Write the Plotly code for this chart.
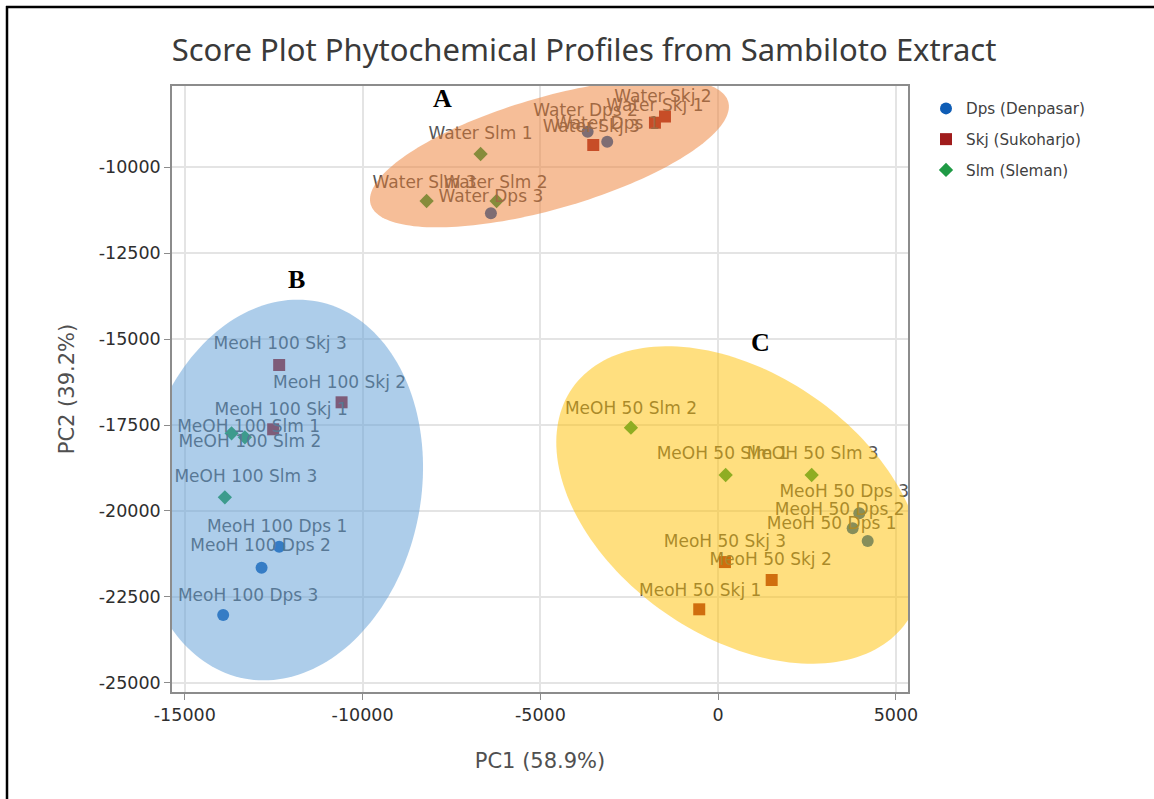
import numpy as np
import plotly.graph_objects as go

# ---------------- data ----------------
dps_names = ["Water Dps 1", "Water Dps 2", "Water Dps 3",
             "MeoH 100 Dps 1", "MeoH 100 Dps 2", "MeoH 100 Dps 3",
             "MeoH 50 Dps 1", "MeoH 50 Dps 2", "MeoH 50 Dps 3"]
dps_pc1 = [-3120, -3671, -6391, -12346, -12841, -13921, 4205, 3783, 3969]
dps_pc2 = [-9265, -8974, -11346, -21038, -21648, -23023, -20872, -20503, -20067]

skj_names = ["Water Skj 1", "Water Skj 2", "Water Skj 3",
             "MeoH 100 Skj 1", "MeoH 100 Skj 2", "MeoH 100 Skj 3",
             "MeoH 50 Skj 1", "MeoH 50 Skj 2", "MeoH 50 Skj 3"]
skj_pc1 = [-1778, -1496, -3513, -12515, -10591, -12346, -532, 1505, 191]
skj_pc2 = [-8712, -8532, -9360, -17625, -16840, -15756, -22858, -22006, -21485]

slm_names = ["Water Slm 1", "Water Slm 2", "Water Slm 3",
             "MeOH 100 Slm 1", "MeOH 100 Slm 2", "MeOH 100 Slm 3",
             "MeOH 50 Slm 1", "MeOH 50 Slm 2", "MeOH 50 Slm 3"]
slm_pc1 = [-6681, -6231, -8200, -13685, -13311, -13873, 211, -2453, 2630]
slm_pc2 = [-9622, -10988, -10988, -17741, -17858, -19602, -18953, -17578, -18953]

group_names = ["Dps (Denpasar)", "Skj (Sukoharjo)", "Slm (Sleman)"]

x_ticks = [-15000, -10000, -5000, 0, 5000]
x_tick_text = ["-15000", "-10000", "-5000", "0", "5000"]
y_ticks = [-25000, -22500, -20000, -17500, -15000, -12500, -10000]
y_tick_text = ["-25000", "-22500", "-20000", "-17500", "-15000", "-12500", "-10000"]

# ---------------- styling / layout ----------------
W, H = 1154, 799
ML, MR, MT, MB = 172, 246, 86, 107
PW, PH = W - ML - MR, H - MT - MB
XR = [-15360, 5339]
YR = [-25262, -7645]
kx = PW / (XR[1] - XR[0])   # px per data unit
ky = PH / (YR[1] - YR[0])

colors = ["#0f5db5", "#a01c1c", "#1f9a45"]
symbols = ["circle", "square", "diamond"]
msizes = [12, 12, 11]

# label pixel offsets (dx, dy) relative to each marker (screen px, y down)
dps_lab = [(0, -17), (-2, -20), (0, -16), (-2, -19), (-1, -21), (25, -18),
           (-36, -16), (-13, -18), (-15, -21)]
skj_lab = [(0, -16), (-2, -19), (-2, -17), (8, -19), (-2, -19), (1, -20),
           (1, -18), (-1, -19), (0, -19)]
slm_lab = [(0, -19), (-1, -17), (-2, -17), (17, -6), (5, 5), (21, -20),
           (-3, -20), (0, -18), (1, -20)]

# confidence ellipses: centre (data), semi-axes (px), angle (deg, screen, y up)
ellipses = [
    dict(cx=-4745, cy=-9593, a=186, b=56, ang=16, color="rgba(237,125,49,0.5)"),
    dict(cx=-12300, cy=-19390, a=192, b=140, ang=79, color="rgba(91,155,213,0.5)"),
    dict(cx=600, cy=-19826, a=204, b=131, ang=-35, color="rgba(255,192,0,0.5)"),
]

fig = go.Figure()

series = [(dps_names, dps_pc1, dps_pc2, dps_lab),
          (skj_names, skj_pc1, skj_pc2, skj_lab),
          (slm_names, slm_pc1, slm_pc2, slm_lab)]

for i, (names, xs, ys, labs) in enumerate(series):
    fig.add_trace(go.Scatter(
        x=xs, y=ys, mode="markers", name=group_names[i],
        legendgroup=group_names[i],
        marker=dict(symbol=symbols[i], size=msizes[i], color=colors[i],
                    line=dict(width=0)),
        text=names, hoverinfo="text", cliponaxis=False))

for i, (names, xs, ys, labs) in enumerate(series):
    lx = [x + d[0] / kx for x, d in zip(xs, labs)]
    ly = [y - d[1] / ky for y, d in zip(ys, labs)]
    fig.add_trace(go.Scatter(
        x=lx, y=ly, mode="text", text=names, textposition="middle center",
        textfont=dict(family="DejaVu Sans", size=17, color="#555555"),
        showlegend=False, hoverinfo="skip", cliponaxis=False))

shapes = []
# dashed zero line
shapes.append(dict(type="line", xref="x", yref="paper", x0=0, x1=0, y0=0, y1=1,
                   line=dict(color="#8f8f8f", width=1.5, dash="dash"),
                   layer="between"))
t = np.linspace(0, 2 * np.pi, 181)
for e in ellipses:
    th = np.deg2rad(e["ang"])
    dx = e["a"] * np.cos(t) * np.cos(th) - e["b"] * np.sin(t) * np.sin(th)
    dy = e["a"] * np.cos(t) * np.sin(th) + e["b"] * np.sin(t) * np.cos(th)
    px = e["cx"] + dx / kx
    py = e["cy"] + dy / ky
    path = "M " + " L ".join(f"{a:.2f},{b:.2f}" for a, b in zip(px, py)) + " Z"
    shapes.append(dict(type="path", xref="x", yref="y", path=path,
                       fillcolor=e["color"], line=dict(width=0), layer="above"))

# outer black frame (left & top edges of the picture)
def pxx(p):
    return (p - ML) / PW

def pyy(p):
    return (H - MB - p) / PH

shapes.append(dict(type="line", xref="paper", yref="paper",
                   x0=pxx(7), x1=pxx(7), y0=pyy(6), y1=pyy(H + 5),
                   line=dict(color="black", width=2.5)))
shapes.append(dict(type="line", xref="paper", yref="paper",
                   x0=pxx(6), x1=pxx(W + 5), y0=pyy(7), y1=pyy(7),
                   line=dict(color="black", width=2.5)))

annotations = []
for txt, (ax_, ay_) in zip(["A", "B", "C"], [(442, 98), (296, 279), (760, 342)]):
    annotations.append(dict(text=f"<b>{txt}</b>", xref="paper", yref="paper",
                            x=pxx(ax_), y=pyy(ay_), xanchor="center",
                            yanchor="middle", showarrow=False,
                            font=dict(family="Liberation Serif", size=26,
                                      color="black")))

axis_common = dict(showline=True, mirror=True, linecolor="#8c8c8c", linewidth=1.5,
                   ticks="outside", ticklen=6, tickcolor="#8c8c8c", tickwidth=1,
                   showgrid=True, gridcolor="#e4e4e4", gridwidth=1.5,
                   zeroline=False,
                   tickfont=dict(family="DejaVu Sans", size=17.5, color="#2e2e2e"))

fig.update_layout(
    width=W, height=H,
    margin=dict(l=ML, r=MR, t=MT, b=MB, pad=0),
    paper_bgcolor="white", plot_bgcolor="white",
    title=dict(text="Score Plot Phytochemical Profiles from Sambiloto Extract",
               x=584 / W, xref="container", xanchor="center",
               y=1 - 50 / H, yref="container", yanchor="middle",
               font=dict(family="Noto Sans", size=31, color="#3a3a3a")),
    xaxis=dict(range=XR, tickvals=x_ticks, ticktext=x_tick_text,
               title=dict(text="PC1 (58.9%)", standoff=30,
                          font=dict(family="DejaVu Sans", size=21, color="#505050")),
               **axis_common),
    yaxis=dict(range=YR, tickvals=y_ticks, ticktext=y_tick_text,
               title=dict(text="PC2 (39.2%)", standoff=18,
                          font=dict(family="DejaVu Sans", size=21, color="#505050")),
               **axis_common),
    legend=dict(x=pxx(926), y=pyy(92), xanchor="left", yanchor="top",
                font=dict(family="DejaVu Sans", size=15.2, color="#404040"),
                tracegroupgap=8, traceorder="grouped", bgcolor="rgba(0,0,0,0)"),
    shapes=shapes, annotations=annotations,
)

fig.write_html("out.html",
               config={"displayModeBar": False},
               post_script="document.body.style.margin='0';"
                           "document.body.style.overflow='hidden';")
